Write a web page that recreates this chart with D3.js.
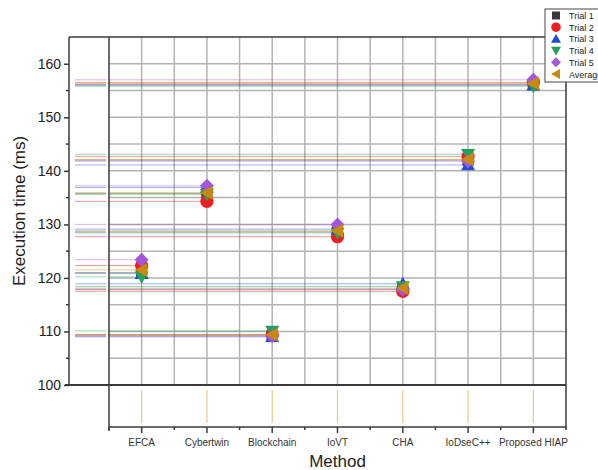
<!DOCTYPE html>
<html><head><meta charset="utf-8">
<script src="https://cdn.jsdelivr.net/npm/d3@7"></script>
<style>body{margin:0;background:#fff}svg{display:block;font-family:"Liberation Sans",Arial,sans-serif}</style>
</head><body><svg id="c" width="598" height="470"></svg>
<script>
const categories = ["EFCA","Cybertwin","Blockchain","IoVT","CHA","IoDseC++","Proposed HIAP"];
const trial1  = [121.0, 135.8, 109.3, 128.6, 117.9, 142.0, 156.1];
const trial2  = [122.3, 134.3, 109.4, 127.7, 117.5, 142.7, 156.5];
const trial3  = [120.8, 136.9, 109.0, 129.1, 118.9, 141.1, 156.0];
const trial4  = [120.2, 135.6, 110.1, 128.4, 118.4, 143.1, 155.8];
const trial5  = [123.4, 137.2, 109.1, 130.0, 117.8, 141.8, 157.0];
const average = [121.5, 135.9, 109.4, 128.8, 118.1, 142.1, 156.3];
const seriesNames = ["Trial 1","Trial 2","Trial 3","Trial 4","Trial 5","Average"];
const yTicks = [100,110,120,130,140,150,160];

const series = [
  {name:seriesNames[0], values:trial1, color:"#3a3a3a", shape:"square"},
  {name:seriesNames[1], values:trial2, color:"#f01e23", shape:"circle"},
  {name:seriesNames[2], values:trial3, color:"#1f4ed8", shape:"up"},
  {name:seriesNames[3], values:trial4, color:"#24a05a", shape:"down"},
  {name:seriesNames[4], values:trial5, color:"#a358dc", shape:"diamond"},
  {name:seriesNames[5], values:average, color:"#c88a0c", shape:"left"}
];

function shapePath(shape, s){
  switch(shape){
    case "square": return `M${-s*0.8},${-s*0.8}H${s*0.8}V${s*0.8}H${-s*0.8}Z`;
    case "circle": return `M${-s*0.95},0A${s*0.95},${s*0.95} 0 1,0 ${s*0.95},0A${s*0.95},${s*0.95} 0 1,0 ${-s*0.95},0Z`;
    case "up": return `M0,${-s}L${s},${s*0.75}L${-s},${s*0.75}Z`;
    case "down": return `M0,${s}L${s},${-s*0.75}L${-s},${-s*0.75}Z`;
    case "diamond": return `M0,${-s}L${s},0L0,${s}L${-s},0Z`;
    case "left": return `M${-s},0L${s*0.8},${-s}L${s*0.8},${s}Z`;
  }
}

const svg = d3.select("#c");
const L = 69, IL = 109, R = 566, T = 37, B = 385, BB = 427;
const x = d3.scaleBand().domain(categories).range([IL, R]);
const y = d3.scaleLinear().domain([100,165]).range([B, T]);
const bw = x.bandwidth();
const cx = c => x(c) + bw/2;

// grid
const g = svg.append("g");
d3.range(105,165,5).forEach(v=>{
  g.append("line").attr("x1",IL).attr("x2",R).attr("y1",y(v)).attr("y2",y(v))
   .attr("stroke","#b3b3b3").attr("stroke-width",1.5);
});
for(let k=1;k<14;k++){
  const xx = IL + k*bw/2;
  g.append("line").attr("x1",xx).attr("x2",xx).attr("y1",T).attr("y2",B)
   .attr("stroke","#b3b3b3").attr("stroke-width",1.5);
}

// drop lines
const dl = svg.append("g");
series.forEach(s=>{
  s.values.forEach((v,i)=>{
    dl.append("line").attr("x1",IL).attr("x2",cx(categories[i])).attr("y1",y(v)).attr("y2",y(v))
      .attr("stroke",s.color).attr("stroke-opacity",0.45).attr("stroke-width",1);
    dl.append("line").attr("x1",75).attr("x2",106).attr("y1",y(v)).attr("y2",y(v))
      .attr("stroke",s.color).attr("stroke-opacity",0.45).attr("stroke-width",1);
  });
});
// bottom panel vertical drop lines
categories.forEach(c=>{
  dl.append("line").attr("x1",cx(c)).attr("x2",cx(c)).attr("y1",B+5).attr("y2",BB-4)
    .attr("stroke","#e6c27a").attr("stroke-opacity",0.9).attr("stroke-width",1.2);
});

// frames
const fr = svg.append("g").attr("stroke","#3a3a3a").attr("fill","none");
fr.append("line").attr("x1",L).attr("x2",L).attr("y1",T).attr("y2",B).attr("stroke-width",1.5);
fr.append("line").attr("x1",L).attr("x2",R).attr("y1",T).attr("y2",T).attr("stroke-width",1.5);
fr.append("line").attr("x1",R).attr("x2",R).attr("y1",T).attr("y2",BB).attr("stroke-width",1.5);
fr.append("line").attr("x1",L-4).attr("x2",R).attr("y1",B).attr("y2",B).attr("stroke-width",2);
fr.append("line").attr("x1",IL).attr("x2",IL).attr("y1",T).attr("y2",BB+4).attr("stroke-width",1.5);
fr.append("line").attr("x1",IL).attr("x2",R).attr("y1",BB).attr("y2",BB).attr("stroke-width",1.5);

// y axis
const yAxis = d3.axisLeft(y).tickValues(yTicks).tickSize(5).tickPadding(3).tickFormat(d3.format("d"));
const ya = svg.append("g").attr("transform",`translate(${L},0)`).call(yAxis);
ya.select(".domain").remove();
ya.selectAll(".tick line").attr("stroke","#3a3a3a").attr("stroke-width",1.5);
ya.selectAll(".tick text").attr("font-size",14).attr("fill","#222").attr("font-family","Liberation Sans, Arial, sans-serif");
d3.range(105,165,10).forEach(v=>{
  svg.append("line").attr("x1",L-3).attr("x2",L).attr("y1",y(v)).attr("y2",y(v)).attr("stroke","#3a3a3a").attr("stroke-width",1.5);
});

// x axis
const xa = svg.append("g").attr("transform",`translate(0,${BB})`).call(d3.axisBottom(x).tickSize(6).tickPadding(6));
xa.select(".domain").remove();
xa.selectAll(".tick line").attr("stroke","#3a3a3a").attr("stroke-width",1.5);
xa.selectAll(".tick text").attr("font-size",10).attr("fill","#333").attr("font-family","Liberation Sans, Arial, sans-serif");
for(let k=0;k<=14;k+=2){
  const xx = IL + k*bw/2;
  svg.append("line").attr("x1",xx).attr("x2",xx).attr("y1",BB).attr("y2",BB+3).attr("stroke","#3a3a3a").attr("stroke-width",1.5);
}

// axis titles
svg.append("text").attr("x",(IL+R)/2).attr("y",467).attr("text-anchor","middle").attr("font-size",17).attr("fill","#222").text("Method");
svg.append("text").attr("transform",`translate(25,${(T+B)/2}) rotate(-90)`).attr("text-anchor","middle").attr("font-size",17).attr("fill","#222").text("Execution time (ms)");

// markers
const mk = svg.append("g");
series.forEach(s=>{
  mk.selectAll(null).data(s.values).enter().append("path")
    .attr("d",shapePath(s.shape,7))
    .attr("transform",(v,i)=>`translate(${cx(categories[i])},${y(v)})`)
    .attr("fill",s.color);
});

// legend
const lg = svg.append("g");
lg.append("rect").attr("x",545).attr("y",9).attr("width",60).attr("height",73).attr("fill","#fff").attr("stroke","#444").attr("stroke-width",1);
series.forEach((s,i)=>{
  const yy = 15.5 + i*11.7;
  lg.append("path").attr("d",shapePath(s.shape,5)).attr("transform",`translate(556,${yy})`).attr("fill",s.color);
  lg.append("text").attr("x",569).attr("y",yy+3.5).attr("font-size",9).attr("fill","#222").text(s.name);
});
</script></body></html>
